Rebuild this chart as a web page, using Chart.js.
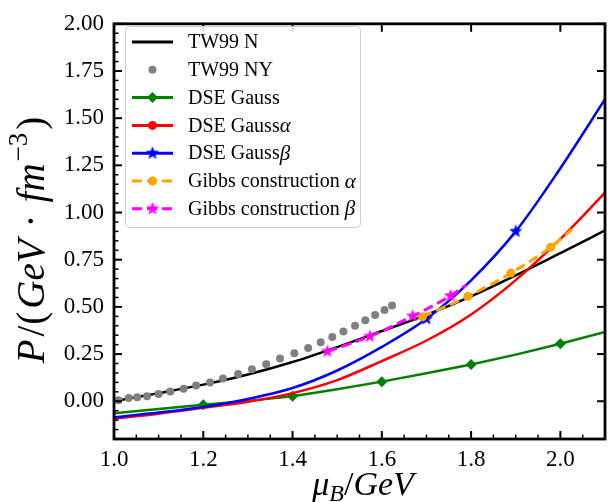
<!DOCTYPE html>
<html><head><meta charset="utf-8">
<script src="https://cdn.jsdelivr.net/npm/chart.js@4"></script>
<style>html,body{margin:0;padding:0;background:#fff;}#wrap{width:614px;height:502px;}</style>
</head><body><div id="wrap"><canvas id="c" width="614" height="502"></canvas></div>
<script>
// ---- data ----
const muGrid        = [1.0, 1.1, 1.2, 1.3, 1.4, 1.5, 1.6, 1.7, 1.8, 1.9, 2.0, 2.1];
const tw99N         = [0.0, 0.043, 0.088, 0.142, 0.208, 0.287, 0.372, 0.458, 0.556, 0.667, 0.785, 0.905];
const dseGauss      = [-0.063, -0.041, -0.018, 0.002, 0.027, 0.064, 0.104, 0.148, 0.195, 0.247, 0.305, 0.367];
const dseGaussAlpha = [-0.092, -0.066, -0.035, -0.003, 0.043, 0.112, 0.213, 0.322, 0.46, 0.642, 0.86, 1.105];
const dseGaussBeta  = [-0.085, -0.06, -0.03, 0.012, 0.07, 0.163, 0.288, 0.437, 0.641, 0.9, 1.235, 1.6];

const tw99NYMu = [1.010,1.033,1.052,1.074,1.100,1.126,1.156,1.184,1.215,1.244,1.278,1.309,1.341,1.372,1.404,1.435,1.463,1.489,1.514,1.540,1.563,1.585,1.606,1.623];
const tw99NYP  = [0.005,0.017,0.021,0.026,0.038,0.052,0.066,0.083,0.100,0.121,0.144,0.170,0.196,0.226,0.255,0.282,0.312,0.341,0.369,0.400,0.429,0.457,0.483,0.507];

const gibbsAlphaMu = [1.691, 1.793, 1.889, 1.978, 2.026];
const gibbsAlphaP  = [0.448, 0.556, 0.679, 0.816, 0.910];
const gibbsBetaMu  = [1.478, 1.573, 1.669, 1.754, 1.789];
const gibbsBetaP   = [0.264, 0.344, 0.451, 0.559, 0.616];

const xTicks = [1.0, 1.2, 1.4, 1.6, 1.8, 2.0];
const yTicks = [0.0, 0.25, 0.5, 0.75, 1.0, 1.25, 1.5, 1.75, 2.0];
const legendNames = ['TW99 N', 'TW99 NY', 'DSE Gauss', 'DSE Gauss', 'DSE Gauss', 'Gibbs construction ', 'Gibbs construction '];
const legendGreek = ['', '', '', 'α', 'β', 'α', 'β'];

// ---- styles ----
const SERIF = '"Liberation Serif", "Times New Roman", serif';
function starImg(color, r) {
  const s = Math.ceil(2 * r + 2), c = document.createElement('canvas');
  c.width = c.height = s;
  const g = c.getContext('2d');
  g.fillStyle = color; g.beginPath();
  for (let i = 0; i < 10; i++) {
    const rr = i % 2 ? r * 0.42 : r, a = -Math.PI / 2 + i * Math.PI / 5;
    g.lineTo(s / 2 + rr * Math.cos(a), s / 2 + rr * Math.sin(a));
  }
  g.closePath(); g.fill();
  return c;
}
const blueStar = starImg('#0000ff', 7);
const magStar = starImg('#ff00ff', 7);

const pts = (xs, ys) => xs.map((x, i) => ({x: x, y: ys[i]}));
const markAt = (xs, sel, r) => xs.map(x => sel.some(s => Math.abs(s - x) < 1e-6) ? r : 0);

const datasets = [
  {label: 'TW99 N', data: pts(muGrid, tw99N), borderColor: '#000', borderWidth: 2.5, pointRadius: 0, cubicInterpolationMode: 'monotone', order: 7},
  {label: 'TW99 NY', data: pts(tw99NYMu, tw99NYP), showLine: false, pointRadius: 4, pointStyle: 'circle', backgroundColor: '#808080', borderColor: '#808080', borderWidth: 0, order: 6},
  {label: 'DSE Gauss', data: pts(muGrid, dseGauss), borderColor: '#008000', borderWidth: 2.5, tension: 0, pointStyle: 'rectRot', pointRadius: markAt(muGrid, [1.2, 1.4, 1.6, 1.8, 2.0], 5.5), backgroundColor: '#008000', pointBorderWidth: 0, order: 5},
  {label: 'DSE Gaussα', data: pts(muGrid, dseGaussAlpha), borderColor: '#ff0000', borderWidth: 2.5, pointRadius: 0, cubicInterpolationMode: 'monotone', order: 4},
  {label: 'DSE Gaussβ', data: pts(muGrid, dseGaussBeta), borderColor: '#0000ff', borderWidth: 2.5, cubicInterpolationMode: 'monotone', pointStyle: blueStar, pointRadius: markAt(muGrid, [1.7, 1.9], 6), order: 3},
  {label: 'Gibbs construction α', data: pts(gibbsAlphaMu, gibbsAlphaP), borderColor: '#ffa500', backgroundColor: '#ffa500', borderWidth: 3, borderDash: [10, 5], cubicInterpolationMode: 'monotone', pointStyle: 'circle', pointRadius: [4.5, 4.5, 4.5, 4.5, 0], pointBorderWidth: 0, order: 2},
  {label: 'Gibbs construction β', data: pts(gibbsBetaMu, gibbsBetaP), borderColor: '#ff00ff', borderWidth: 3, borderDash: [10, 5], cubicInterpolationMode: 'monotone', pointStyle: magStar, pointRadius: [6, 6, 6, 6, 0], order: 1}
];

// ---- plugin: frame, inward ticks, axis titles, legend ----
function drawRuns(ctx, runs, cx, baseline) {
  let w = 0;
  runs.forEach(r => { ctx.font = r.f; r.w = ctx.measureText(r.t).width; w += r.w + (r.sp || 0); });
  let x = cx - w / 2;
  ctx.textBaseline = 'alphabetic'; ctx.textAlign = 'left';
  runs.forEach(r => { ctx.font = r.f; ctx.fillText(r.t, x, baseline + (r.dy || 0)); x += r.w + (r.sp || 0); });
}
const deco = {
  id: 'deco',
  afterDatasetsDraw(chart) {
    const ctx = chart.ctx, a = chart.chartArea, xs = chart.scales.x, ys = chart.scales.y;
    ctx.save();
    ctx.strokeStyle = '#000';
    const tick = (x1, y1, x2, y2, w) => { ctx.lineWidth = w; ctx.beginPath(); ctx.moveTo(x1, y1); ctx.lineTo(x2, y2); ctx.stroke(); };
    for (let v = 1.0; v <= 2.1001; v += 0.05) {
      const px = xs.getPixelForValue(v);
      const major = xTicks.some(t => Math.abs(t - v) < 1e-6);
      tick(px, a.bottom, px, a.bottom - (major ? 8 : 4.5), major ? 2 : 1.5);
      if (major) tick(px, a.top, px, a.top + 8, 2);
    }
    for (let v = -0.2; v <= 2.0001; v += 0.05) {
      const py = ys.getPixelForValue(v);
      const major = yTicks.some(t => Math.abs(t - v) < 1e-6);
      tick(a.left, py, a.left + (major ? 8 : 4.5), py, major ? 2 : 1.5);
      if (major) tick(a.right, py, a.right - 8, py, 2);
    }
    ctx.lineWidth = 2.8;
    ctx.strokeRect(a.left, a.top, a.right - a.left, a.bottom - a.top);

    // axis titles
    ctx.fillStyle = '#000';
    const I = s => 'italic ' + s + 'px ' + SERIF, N = s => s + 'px ' + SERIF;
    drawRuns(ctx, [{t: 'μ', f: I(34)}, {t: 'B', f: I(24), dy: 6}, {t: '/', f: N(34)}, {t: 'GeV', f: I(34)}], 363, 495);
    ctx.save();
    ctx.translate(44, 240); ctx.rotate(-Math.PI / 2);
    drawRuns(ctx, [{t: 'P', f: I(39), sp: 3}, {t: '/', f: N(39), sp: 1}, {t: '(', f: N(39), sp: 3}, {t: 'GeV', f: I(39), sp: 12}, {t: '·', f: N(39), sp: 12},
                   {t: 'fm', f: I(39), sp: 2}, {t: '−3', f: N(27), dy: -17, sp: 3}, {t: ')', f: N(39)}], 0, 0);
    ctx.restore();

    // legend
    const lx = 125, ly = 26, lw = 235, lh = 201;
    ctx.fillStyle = 'rgba(255,255,255,0.85)';
    ctx.strokeStyle = '#cccccc'; ctx.lineWidth = 1;
    ctx.beginPath(); ctx.roundRect(lx + 0.5, ly + 0.5, lw, lh, 4); ctx.fill(); ctx.stroke();
    const rowY = i => 42 + i * 27.8;
    datasets.forEach((d, i) => {
      const y = rowY(i), x0 = 132, x1 = 173, xm = (x0 + x1) / 2;
      if (i !== 1) {
        ctx.strokeStyle = d.borderColor; ctx.lineWidth = 3;
        ctx.setLineDash(d.borderDash || []);
        ctx.beginPath(); ctx.moveTo(x0, y); ctx.lineTo(x1, y); ctx.stroke();
        ctx.setLineDash([]);
      }
      ctx.fillStyle = d.borderColor;
      if (i === 1) { ctx.fillStyle = '#808080'; ctx.beginPath(); ctx.arc(xm, y, 4, 0, 2 * Math.PI); ctx.fill(); }
      if (i === 2) { ctx.beginPath(); ctx.moveTo(xm, y - 5.5); ctx.lineTo(xm + 5.5, y); ctx.lineTo(xm, y + 5.5); ctx.lineTo(xm - 5.5, y); ctx.closePath(); ctx.fill(); }
      if (i === 3 || i === 5) { ctx.beginPath(); ctx.arc(xm, y, 4.5, 0, 2 * Math.PI); ctx.fill(); }
      if (i === 4) ctx.drawImage(blueStar, xm - blueStar.width / 2, y - blueStar.height / 2);
      if (i === 6) ctx.drawImage(magStar, xm - magStar.width / 2, y - magStar.height / 2);
      ctx.fillStyle = '#000'; ctx.textBaseline = 'middle'; ctx.textAlign = 'left';
      ctx.font = '20px ' + SERIF;
      ctx.fillText(legendNames[i], 188, y + 1);
      if (legendGreek[i]) {
        const w = ctx.measureText(legendNames[i]).width;
        ctx.font = 'italic 21px ' + SERIF;
        ctx.fillText(legendGreek[i], 188 + w, y + 1);
      }
    });
    ctx.restore();
  }
};

new Chart(document.getElementById('c'), {
  type: 'line',
  data: {datasets: datasets},
  options: {
    responsive: false, animation: false, devicePixelRatio: 1,
    layout: {padding: {left: 0, right: 5, top: 16, bottom: 0}},
    plugins: {legend: {display: false}, tooltip: {enabled: false}},
    elements: {line: {fill: false}},
    scales: {
      x: {
        type: 'linear', min: 1.0, max: 2.1,
        grid: {display: false, drawTicks: false}, border: {display: false},
        afterBuildTicks: s => { s.ticks = xTicks.map(v => ({value: v})); },
        afterFit: s => { s.height = 63; },
        ticks: {font: {family: SERIF, size: 23}, color: '#000', padding: 7, maxRotation: 0, autoSkip: false, callback: v => v.toFixed(1)}
      },
      y: {
        type: 'linear', min: -0.2, max: 2.0,
        grid: {display: false, drawTicks: false}, border: {display: false},
        afterBuildTicks: s => { s.ticks = yTicks.map(v => ({value: v})); },
        afterFit: s => { s.width = 114; },
        ticks: {font: {family: SERIF, size: 23}, color: '#000', padding: 10, autoSkip: false, callback: v => v.toFixed(2)}
      }
    }
  },
  plugins: [deco]
});
</script></body></html>
